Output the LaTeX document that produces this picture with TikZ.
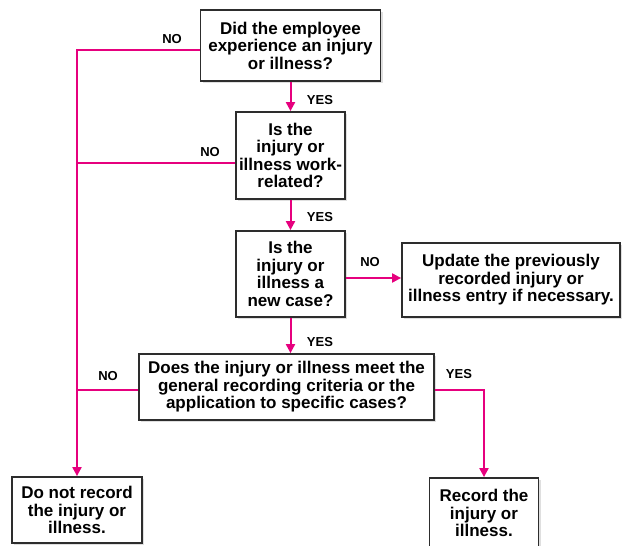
\documentclass[tikz,border=0pt]{standalone}
\usepackage{fontspec}
\setmainfont{Liberation Sans}
\usepackage{tikz}
\usetikzlibrary{arrows.meta,shadows,positioning,calc}
\definecolor{flow}{RGB}{230,0,126}
\definecolor{edge}{RGB}{45,45,45}

\begin{document}
\begin{tikzpicture}[
    x=1pt, y=-1pt,
    box/.style={rectangle, draw=edge, line width=1.8pt, fill=white, align=center,
                inner sep=2pt, font=\bfseries\fontsize{17}{17.5}\selectfont,
                drop shadow={shadow xshift=2pt, shadow yshift=-2pt, opacity=0.25, fill=gray}},
    lbl/.style={font=\bfseries\fontsize{13}{14}\selectfont},
    link/.style={draw=flow, line width=2pt},
    arrow/.style={link, -{Triangle[length=9pt,width=9pt]}}
]
    \useasboundingbox (0,0) rectangle (622,546);

    % Questions
    \node[box, minimum width=180pt, minimum height=71pt] (q1) at (290.5, 45.5)
        {Did the employee\\experience an injury\\or illness?};
    \node[box, minimum width=109pt, minimum height=87pt] (q2) at (290.5, 155.5)
        {Is the\\injury or\\illness work-\\related?};
    \node[box, minimum width=109pt, minimum height=86pt] (q3) at (290.5, 274)
        {Is the\\injury or\\illness a\\new case?};
    \node[box, minimum width=295pt, minimum height=66pt] (q4) at (286.5, 387)
        {Does the injury or illness meet the\\general recording criteria or the\\application to specific cases?};

    % Outcomes
    \node[box, minimum width=218pt, minimum height=74pt] (upd) at (511, 280)
        {Update the previously\\recorded injury or\\illness entry if necessary.};
    \node[box, minimum width=130pt, minimum height=66pt] (norec) at (77, 510)
        {Do not record\\the injury or\\illness.};
    \node[box, minimum width=109pt, minimum height=70pt] (rec) at (484, 513)
        {Record the\\injury or\\illness.};

    % Arrows
    \draw[arrow] (q1.south) -- (q2.north);
    \draw[arrow] (q2.south) -- (q3.north);
    \draw[arrow] (q3.south) -- (q3.south |- q4.north);
    \draw[arrow] ([yshift=-4pt]q3.east) -- ([yshift=-4pt]q3.east -| upd.west);
    \draw[arrow] ([yshift=-4.5pt]q1.west) -| (norec.north);
    \draw[link] ([yshift=-7pt]q2.west) -- ([yshift=-7pt]q2.west -| norec.north);
    \draw[link] ([yshift=-3pt]q4.west) -- ([yshift=-3pt]q4.west -| norec.north);
    \draw[arrow] ([yshift=-3pt]q4.east) -| (rec.north);

    % Labels
    \node[lbl] (no1) at (172, 39) {NO};
    \node[lbl] (yes1) at (320, 100) {YES};
    \node[lbl] (no2) at (210, 152) {NO};
    \node[lbl] (yes2) at (320, 217) {YES};
    \node[lbl] (no3) at (370, 262) {NO};
    \node[lbl] (yes3) at (320, 342) {YES};
    \node[lbl] (no4) at (108, 376) {NO};
    \node[lbl] (yes4) at (459, 374) {YES};
\end{tikzpicture}
\end{document}
